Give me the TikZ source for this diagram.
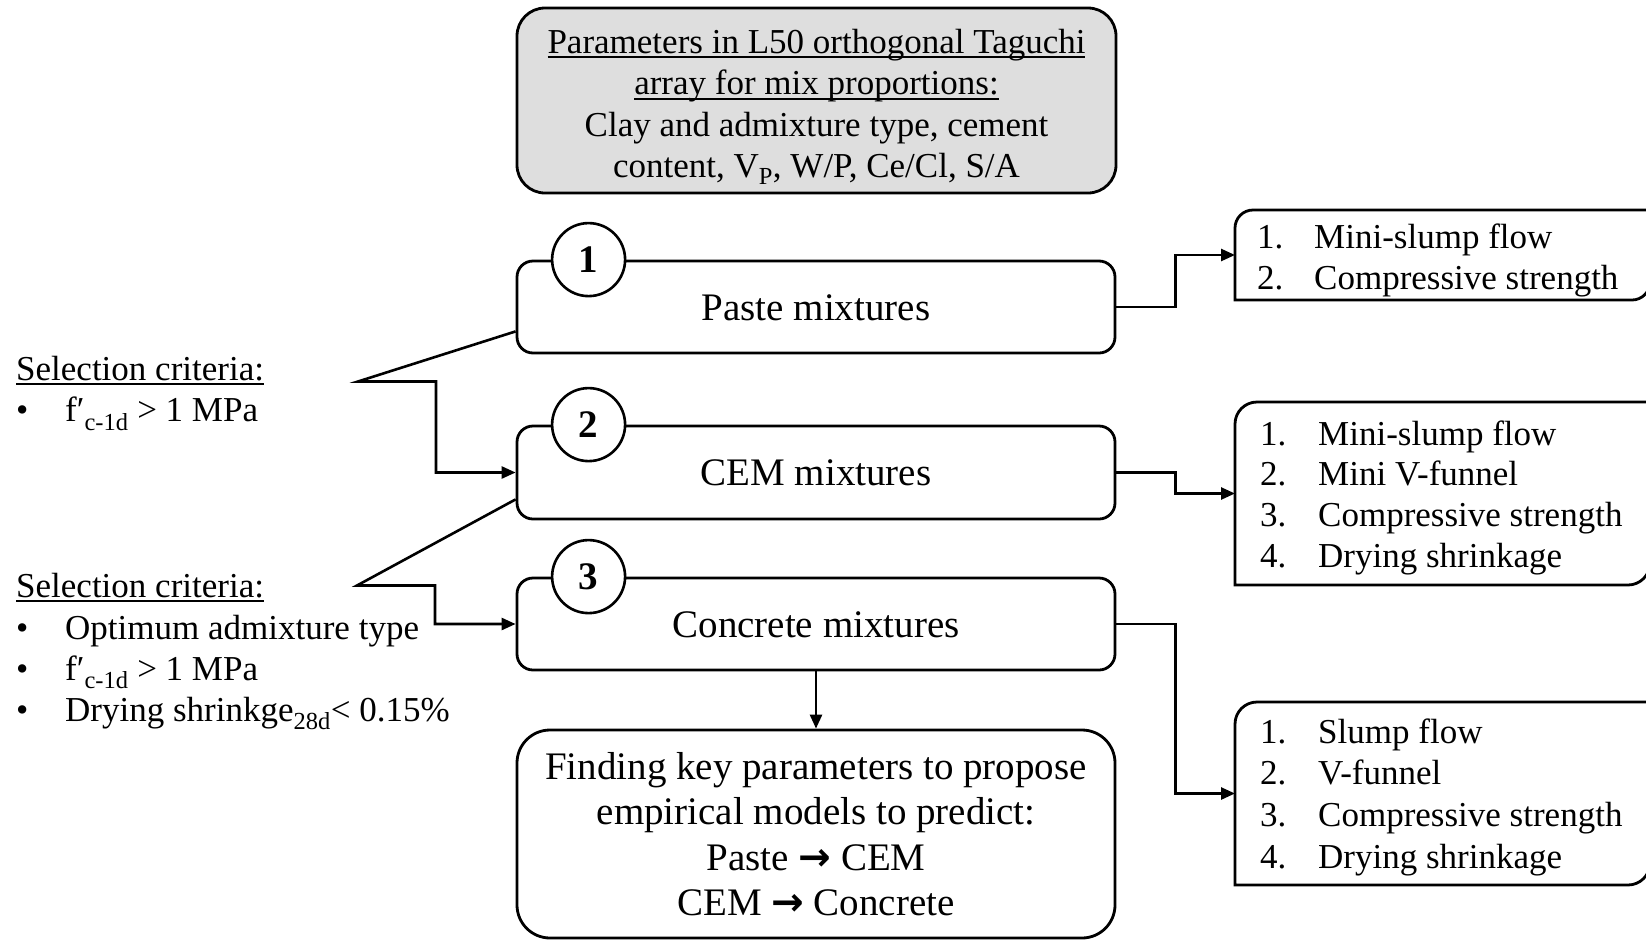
\documentclass[tikz,border=0pt]{standalone}
\usepackage{fontspec}
\setmainfont{Liberation Serif}
\newfontfamily\arrowfont{DejaVu Sans}
\usetikzlibrary{arrows.meta}
\definecolor{topgray}{RGB}{222,222,222}
\newsavebox\ulbox
\newcommand{\ulx}[1]{\sbox\ulbox{#1}\rlap{\rule[-5pt]{\wd\ulbox}{1.6pt}}\usebox\ulbox}
\newcommand{\rdiag}[2]{\draw[line width=2.8pt] (#1.south west) -- ([yshift=-#2]#1.north west) arc[start angle=180,end angle=90,radius=#2] -- (#1.north east) -- ([yshift=#2]#1.south east) arc[start angle=0,end angle=-90,radius=#2] -- cycle;}
\newcommand{\parrow}{{\arrowfont\bfseries →}}
\begin{document}
\begin{tikzpicture}[x=1pt,y=1pt,
  txt/.style={inner sep=0pt, font=\fontsize{35}{41.5}\selectfont},
  mbox/.style={draw, line width=2.8pt, rounded corners=16pt, minimum width=598pt, minimum height=92pt, inner sep=0pt, font=\fontsize{39}{45.5}\selectfont, text height=26pt, text depth=0pt},
  numc/.style={draw, circle, fill=white, line width=2.6pt, minimum size=73pt, inner sep=0pt, font=\fontsize{39}{45}\selectfont\bfseries},
  conn/.style={line width=2.6pt},
  arr/.style={conn, -{Triangle[length=14pt,width=12pt]}},
  rshape/.style={draw=none, minimum width=415pt, inner sep=0pt, outer sep=0pt},
  line join=miter
]
\useasboundingbox (0,0) rectangle (1646,-940);

% top box
\node[draw, line width=2.8pt, rounded corners=28pt, fill=topgray, minimum width=599pt, minimum height=185pt, inner sep=0pt, align=center, font=\fontsize{35}{41.5}\selectfont] (top) at (816.5,-100.5)
 {\rule{0pt}{37pt}\ulx{Parameters in L50 orthogonal Taguchi}\\ \ulx{array for mix proportions:}\\ Clay and admixture type, cement\\ content, V\textsubscript{P}, W/P, Ce/Cl, S/A};

% main boxes
\node[mbox] (paste) at (816,-307) {Paste mixtures};
\node[mbox, minimum height=93pt] (cem) at (816,-472.5) {CEM mixtures};
\node[mbox] (concrete) at (816,-624) {Concrete mixtures};
\node[draw, line width=2.8pt, rounded corners=33pt, minimum width=598pt, minimum height=208pt, inner sep=0pt, align=center, font=\fontsize{39}{45.5}\selectfont] (final) at (816,-834)
 {Finding key parameters to propose\\ empirical models to predict:\\ Paste \parrow\ CEM\\ CEM \parrow\ Concrete};

\node[numc] (n1) at ([xshift=73pt]paste.north west) {1};
\node[numc] (n2) at ([xshift=73pt]cem.north west) {2};
\node[numc] (n3) at ([xshift=73pt]concrete.north west) {3};

% right boxes (right edge just beyond the picture)
\node[rshape, minimum height=90pt] (r1) at (1442.5,-255) {};
\node[rshape, minimum height=183pt] (r2) at (1442.5,-493.5) {};
\node[rshape, minimum height=183pt] (r3) at (1442.5,-793.5) {};
\rdiag{r1}{18pt}
\rdiag{r2}{22pt}
\rdiag{r3}{22pt}

\node[txt, anchor=base west] (t1) at (1257,-248) {\begin{tabular}[t]{@{}l@{}}\makebox[57pt][l]{1.}Mini-slump flow\\ \makebox[57pt][l]{2.}Compressive strength\end{tabular}};
\node[txt, anchor=base west, font=\fontsize{35}{40.7}\selectfont] (t2) at (1260,-445) {\begin{tabular}[t]{@{}l@{}}\makebox[58pt][l]{1.}Mini-slump flow\\ \makebox[58pt][l]{2.}Mini V-funnel\\ \makebox[58pt][l]{3.}Compressive strength\\ \makebox[58pt][l]{4.}Drying shrinkage\end{tabular}};
\node[txt, anchor=base west, font=\fontsize{35}{41.7}\selectfont] (t3) at (1260,-743) {\begin{tabular}[t]{@{}l@{}}\makebox[58pt][l]{1.}Slump flow\\ \makebox[58pt][l]{2.}V-funnel\\ \makebox[58pt][l]{3.}Compressive strength\\ \makebox[58pt][l]{4.}Drying shrinkage\end{tabular}};

% left texts
\node[txt, anchor=base west] (sc1) at (16,-380) {\ulx{Selection criteria:}};
\node[txt, anchor=base west] (a1) at (16,-421.7) {\makebox[49pt][l]{•}f′\textsubscript{c-1d} > 1 MPa};
\node[txt, anchor=base west] (sc2) at (16,-597) {\ulx{Selection criteria:}};
\node[txt, anchor=base west] (b1) at (16,-639) {\makebox[49pt][l]{•}Optimum admixture type};
\node[txt, anchor=base west] (b2) at (16,-680.5) {\makebox[49pt][l]{•}f′\textsubscript{c-1d} > 1 MPa};
\node[txt, anchor=base west] (b3) at (16,-721) {\makebox[49pt][l]{•}Drying shrinkge\textsubscript{28d}< 0.15\%};

% connectors
\draw[arr] (paste.east) -- ++(59,0) |- (r1.west);
\draw[arr] (cem.east) -- ++(59,0) |- (r2.west);
\draw[arr] (concrete.east) -- ++(59,0) |- (r3.west);
\draw[arr] (concrete.south) -- (final.north);

\coordinate (j1) at (358,-381.5);
\coordinate (j2) at (357,-585.5);
\draw[arr] ([yshift=23pt]paste.south west) -- (j1) -- ++(78,0) |- (cem.west);
\draw[arr] ([yshift=21pt]cem.south west) -- (j2) -- ++(78,0) |- (concrete.west);
\end{tikzpicture}
\end{document}
